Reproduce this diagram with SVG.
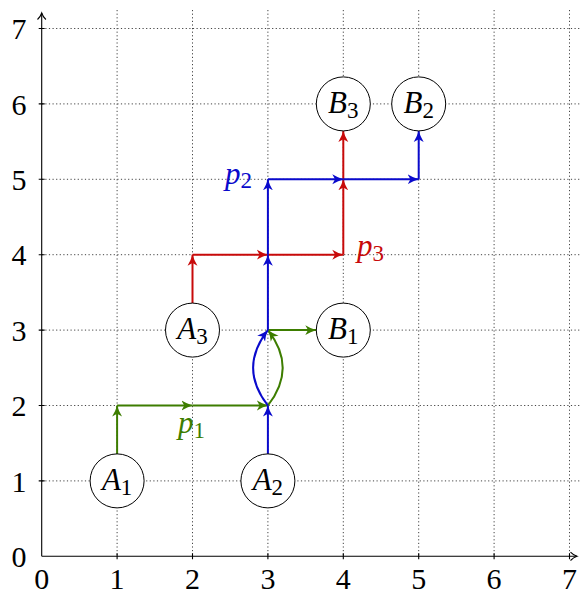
<svg xmlns="http://www.w3.org/2000/svg" width="581" height="597" viewBox="0 0 581 597">
<style>
.grid{stroke:#444;stroke-width:1;stroke-dasharray:1.2 2.4;fill:none}
.axis{stroke:#000;stroke-width:1.1;fill:none}
.tick{font-family:"Liberation Serif","DejaVu Serif",serif;font-size:30px;fill:#000;text-anchor:middle}
.node circle{fill:#fff;stroke:#000;stroke-width:1}
.node text{font-family:"Liberation Serif","DejaVu Serif",serif;font-size:31px;fill:#000;text-anchor:middle}
.it{font-style:italic}
.g{stroke:#3d7d00;stroke-width:2;fill:none;marker-end:url(#ag)}
.b{stroke:#0a0acc;stroke-width:2;fill:none;marker-end:url(#ab)}
.r{stroke:#c80a0a;stroke-width:2;fill:none;marker-end:url(#ar)}
.lab{font-family:"Liberation Serif","DejaVu Serif",serif;font-size:31px}
</style>
<defs>
<marker id="ag" viewBox="0 0 10 10" refX="10" refY="5" markerWidth="11" markerHeight="11" markerUnits="userSpaceOnUse" orient="auto"><path d="M0,0.5 Q5,3.6 10,5 Q5,6.4 0,9.5 L2.5,5 Z" fill="#3d7d00"/></marker>
<marker id="ab" viewBox="0 0 10 10" refX="10" refY="5" markerWidth="11" markerHeight="11" markerUnits="userSpaceOnUse" orient="auto"><path d="M0,0.5 Q5,3.6 10,5 Q5,6.4 0,9.5 L2.5,5 Z" fill="#0a0acc"/></marker>
<marker id="ar" viewBox="0 0 10 10" refX="10" refY="5" markerWidth="11" markerHeight="11" markerUnits="userSpaceOnUse" orient="auto"><path d="M0,0.5 Q5,3.6 10,5 Q5,6.4 0,9.5 L2.5,5 Z" fill="#c80a0a"/></marker>
</defs>
<rect width="581" height="597" fill="#fff"/>
<g id="grid">
<path class="grid" d="M117.1,10V556.3M192.5,10V556.3M267.9,10V556.3M343.3,10V556.3M418.7,10V556.3M494.1,10V556.3M569.5,10V556.3"/>
<path class="grid" d="M41.7,480.9H581M41.7,405.5H581M41.7,330.1H581M41.7,254.7H581M41.7,179.3H581M41.7,103.9H581M41.7,28.5H581"/>
</g>
<g id="axes">
<path class="axis" d="M41.7,556.3H577M41.7,556.3V13"/>
<path class="axis" d="M37.5,19.5 Q40.6,16.5 41.7,13 Q42.8,16.5 45.9,19.5"/>
<path class="axis" d="M570.5,552.1 Q573.5,555.2 577,556.3 Q573.5,557.4 570.5,560.5"/>
<path class="axis" d="M117.1,553.3V559.3M192.5,553.3V559.3M267.9,553.3V559.3M343.3,553.3V559.3M418.7,553.3V559.3M494.1,553.3V559.3M569.5,553.3V559.3M38.7,480.9H44.7M38.7,405.5H44.7M38.7,330.1H44.7M38.7,254.7H44.7M38.7,179.3H44.7M38.7,103.9H44.7M38.7,28.5H44.7"/>
<text class="tick" x="41.7" y="589">0</text>
<text class="tick" x="117.1" y="589">1</text>
<text class="tick" x="192.5" y="589">2</text>
<text class="tick" x="267.9" y="589">3</text>
<text class="tick" x="343.3" y="589">4</text>
<text class="tick" x="418.7" y="589">5</text>
<text class="tick" x="494.1" y="589">6</text>
<text class="tick" x="569.5" y="589">7</text>
<text class="tick" x="19" y="567">0</text>
<text class="tick" x="19" y="491.6">1</text>
<text class="tick" x="19" y="416.2">2</text>
<text class="tick" x="19" y="340.8">3</text>
<text class="tick" x="19" y="265.4">4</text>
<text class="tick" x="19" y="190">5</text>
<text class="tick" x="19" y="114.6">6</text>
<text class="tick" x="19" y="39.2">7</text>
</g>
<g id="connectors">
<g id="p1">
<path class="g" d="M117.1,453.9V405.5"/>
<path class="g" d="M117.1,405.5H192.5"/>
<path class="g" d="M192.5,405.5H267.9"/>
<path class="g" d="M267.9,405.5 C287.9,380 287.9,355.6 267.9,330.1"/>
<path class="g" d="M267.9,330.1H316.3"/>
</g>
<g id="p3">
<path class="r" d="M192.5,303.1V254.7"/>
<path class="r" d="M192.5,254.7H267.9"/>
<path class="r" d="M267.9,254.7H343.3"/>
<path class="r" d="M343.3,254.7V179.3"/>
<path class="r" d="M343.3,179.3V130.9"/>
</g>
<g id="p2">
<path class="b" d="M267.9,453.9V405.5"/>
<path class="b" d="M267.9,405.5 C247.9,380 247.9,355.6 267.9,330.1"/>
<path class="b" d="M267.9,330.1V254.7"/>
<path class="b" d="M267.9,254.7V179.3"/>
<path class="b" d="M267.9,179.3H343.3"/>
<path class="b" d="M343.3,179.3H418.7"/>
<path class="b" d="M418.7,179.3V130.9"/>
</g>
<text class="lab" x="178" y="433" fill="#3d7d00"><tspan class="it">p</tspan><tspan font-size="23" dy="5">1</tspan></text>
<text class="lab" x="225" y="184" fill="#0a0acc"><tspan class="it">p</tspan><tspan font-size="23" dy="4">2</tspan></text>
<text class="lab" x="357" y="256" fill="#c80a0a"><tspan class="it">p</tspan><tspan font-size="23" dy="5">3</tspan></text>
</g>
<g id="A1" class="node"><circle cx="117.1" cy="480.9" r="27"/><text x="117.1" y="490"><tspan class="it">A</tspan><tspan font-size="23" dy="5">1</tspan></text></g>
<g id="A2" class="node"><circle cx="267.9" cy="480.9" r="27"/><text x="267.9" y="490"><tspan class="it">A</tspan><tspan font-size="23" dy="5">2</tspan></text></g>
<g id="A3" class="node"><circle cx="192.5" cy="330.1" r="27"/><text x="192.5" y="339.2"><tspan class="it">A</tspan><tspan font-size="23" dy="5">3</tspan></text></g>
<g id="B1" class="node"><circle cx="343.3" cy="330.1" r="27"/><text x="343.3" y="339.2"><tspan class="it">B</tspan><tspan font-size="23" dy="5">1</tspan></text></g>
<g id="B3" class="node"><circle cx="343.3" cy="103.9" r="27"/><text x="343.3" y="113"><tspan class="it">B</tspan><tspan font-size="23" dy="5">3</tspan></text></g>
<g id="B2" class="node"><circle cx="418.7" cy="103.9" r="27"/><text x="418.7" y="113"><tspan class="it">B</tspan><tspan font-size="23" dy="5">2</tspan></text></g>
</svg>
